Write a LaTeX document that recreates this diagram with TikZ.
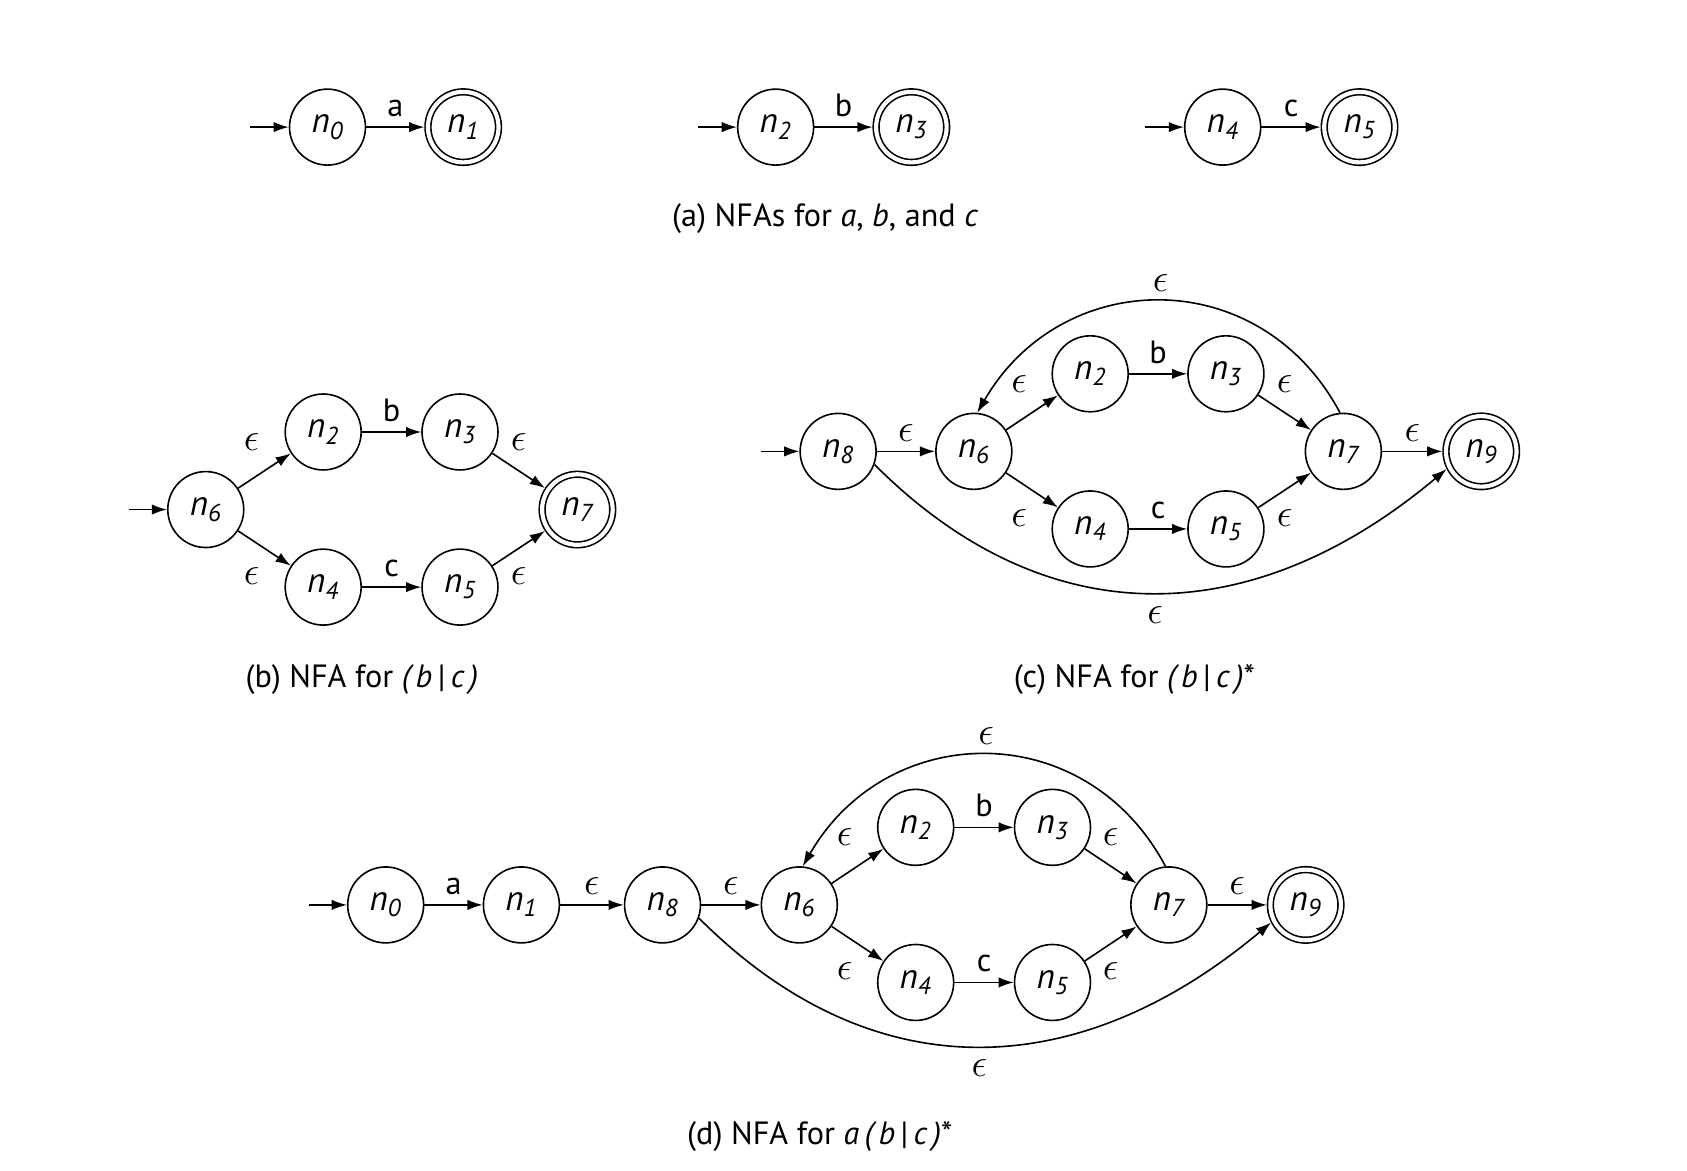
\documentclass[tikz,border=0pt]{standalone}
\usepackage{fontspec}
\setmainfont{PT Sans}
\usetikzlibrary{positioning,arrows.meta}
\newcommand{\nst}[1]{{\fontsize{18.5}{20}\selectfont\textit{n}\textsubscript{\itshape #1}}}
\newcommand{\eps}{{\fontsize{21}{22}\selectfont$\epsilon$}}
\begin{document}
\begin{tikzpicture}[on grid,line width=0.85pt,font=\fontsize{17}{20}\selectfont]
\tikzset{st/.style={circle,draw,minimum size=1.41cm,inner sep=0pt},
acc/.style={st,double,double distance=2.2pt,minimum size=1.31cm,outer sep=1.9pt},
tr/.style={->,>={Latex[length=8pt,width=5.5pt]},draw},
lb/.style={above=5pt,inner sep=0pt},
lbb/.style={below=0.24cm,inner sep=0pt},
ul/.style={above=0.36cm,inner sep=0pt,xshift=-0.24cm},
ur/.style={above=0.36cm,inner sep=0pt},
dl/.style={below=0.34cm,inner sep=0pt,xshift=-0.24cm},
dr/.style={below=0.34cm,inner sep=0pt},
}
\useasboundingbox (0,0) rectangle (31.32,-21.74);

% (a) three small NFAs
\node[st] (a0) at (6.08,-2.36) {\nst{0}};
\node[acc] (a1) [right=2.52cm of a0] {\nst{1}};
\node[st] (a2) at (14.40,-2.36) {\nst{2}};
\node[acc] (a3) [right=2.52cm of a2] {\nst{3}};
\node[st] (a4) at (22.70,-2.36) {\nst{4}};
\node[acc] (a5) [right=2.54cm of a4] {\nst{5}};
\coordinate[left=1.44cm of a0] (a0in);
\coordinate[left=1.44cm of a2] (a2in);
\coordinate[left=1.44cm of a4] (a4in);
\path[tr] (a0in) -- (a0);
\path[tr] (a2in) -- (a2);
\path[tr] (a4in) -- (a4);
\path[tr] (a0) -- node[lb] {a} (a1);
\path[tr] (a2) -- node[lb] {b} (a3);
\path[tr] (a4) -- node[lb] {c} (a5);
\node (capa) at (15.32,-4.06) {(a) NFAs for \textit{a}, \textit{b}, and \textit{c}};

% (b) alternation
\node[st] (b6) at (3.82,-9.46) {\nst{6}};
\node[st] (b2) [above right=1.44cm and 2.18cm of b6] {\nst{2}};
\node[st] (b3) [right=2.54cm of b2] {\nst{3}};
\node[st] (b4) [below right=1.44cm and 2.18cm of b6] {\nst{4}};
\node[st] (b5) [right=2.54cm of b4] {\nst{5}};
\node[acc] (b7) [below right=1.44cm and 2.18cm of b3] {\nst{7}};
\coordinate[left=1.42cm of b6] (b6in);
\path[tr] (b6in) -- (b6);
\path[tr] (b6) -- node[ul] {\eps} (b2);
\path[tr] (b2) -- node[lb] {b} (b3);
\path[tr] (b3) -- node[ur] {\eps} (b7);
\path[tr] (b6) -- node[dl] {\eps} (b4);
\path[tr] (b4) -- node[lb] {c} (b5);
\path[tr] (b5) -- node[dr] {\eps} (b7);
\node (capb) at (6.72,-12.62) {(b) NFA for \textit{(\,b\,{\upshape|}\,c\,)}};

% (c) closure
\node[st] (c8) at (15.56,-8.38) {\nst{8}};
\node[st] (c6) [right=2.52cm of c8] {\nst{6}};
\node[st] (c2) [above right=1.44cm and 2.16cm of c6] {\nst{2}};
\node[st] (c3) [right=2.52cm of c2] {\nst{3}};
\node[st] (c4) [below right=1.44cm and 2.16cm of c6] {\nst{4}};
\node[st] (c5) [right=2.52cm of c4] {\nst{5}};
\node[st] (c7) [below right=1.44cm and 2.18cm of c3] {\nst{7}};
\node[acc] (c9) [right=2.56cm of c7] {\nst{9}};
\coordinate[left=1.44cm of c8] (c8in);
\path[tr] (c8in) -- (c8);
\path[tr] (c8) -- node[lb] {\eps} (c6);
\path[tr] (c6) -- node[ul] {\eps} (c2);
\path[tr] (c2) -- node[lb] {b} (c3);
\path[tr] (c3) -- node[ur] {\eps} (c7);
\path[tr] (c6) -- node[dl] {\eps} (c4);
\path[tr] (c4) -- node[lb] {c} (c5);
\path[tr] (c5) -- node[dr] {\eps} (c7);
\path[tr] (c7) -- node[lb] {\eps} (c9);
\path[tr] (c7.95) to[out=118,in=60,looseness=1.2] node[lb] {\eps} (c6.85);
\path[tr] (c8.-20) to[out=-45,in=-140,looseness=1.11] node[lbb] {\eps} (c9.-153);
\node (capc) at (21.06,-12.62) {(c) NFA for \textit{(\,b\,{\upshape|}\,c\,)}*};

% (d) concatenation with closure
\node[st] (d0) at (7.16,-16.80) {\nst{0}};
\node[st] (d1) [right=2.52cm of d0] {\nst{1}};
\node[st] (d8) [right=2.62cm of d1] {\nst{8}};
\node[st] (d6) [right=2.54cm of d8] {\nst{6}};
\node[st] (d2) [above right=1.44cm and 2.16cm of d6] {\nst{2}};
\node[st] (d3) [right=2.54cm of d2] {\nst{3}};
\node[st] (d4) [below right=1.44cm and 2.16cm of d6] {\nst{4}};
\node[st] (d5) [right=2.54cm of d4] {\nst{5}};
\node[st] (d7) [below right=1.44cm and 2.16cm of d3] {\nst{7}};
\node[acc] (d9) [right=2.54cm of d7] {\nst{9}};
\coordinate[left=1.42cm of d0] (d0in);
\path[tr] (d0in) -- (d0);
\path[tr] (d0) -- node[lb] {a} (d1);
\path[tr] (d1) -- node[lb] {\eps} (d8);
\path[tr] (d8) -- node[lb] {\eps} (d6);
\path[tr] (d6) -- node[ul] {\eps} (d2);
\path[tr] (d2) -- node[lb] {b} (d3);
\path[tr] (d3) -- node[ur] {\eps} (d7);
\path[tr] (d6) -- node[dl] {\eps} (d4);
\path[tr] (d4) -- node[lb] {c} (d5);
\path[tr] (d5) -- node[dr] {\eps} (d7);
\path[tr] (d7) -- node[lb] {\eps} (d9);
\path[tr] (d7.95) to[out=118,in=60,looseness=1.2] node[lb] {\eps} (d6.85);
\path[tr] (d8.-20) to[out=-45,in=-140,looseness=1.11] node[lbb] {\eps} (d9.-153);
\node (capd) at (15.22,-21.10) {(d) NFA for \textit{a\,(\,b\,{\upshape|}\,c\,)}*};
\end{tikzpicture}
\end{document}
